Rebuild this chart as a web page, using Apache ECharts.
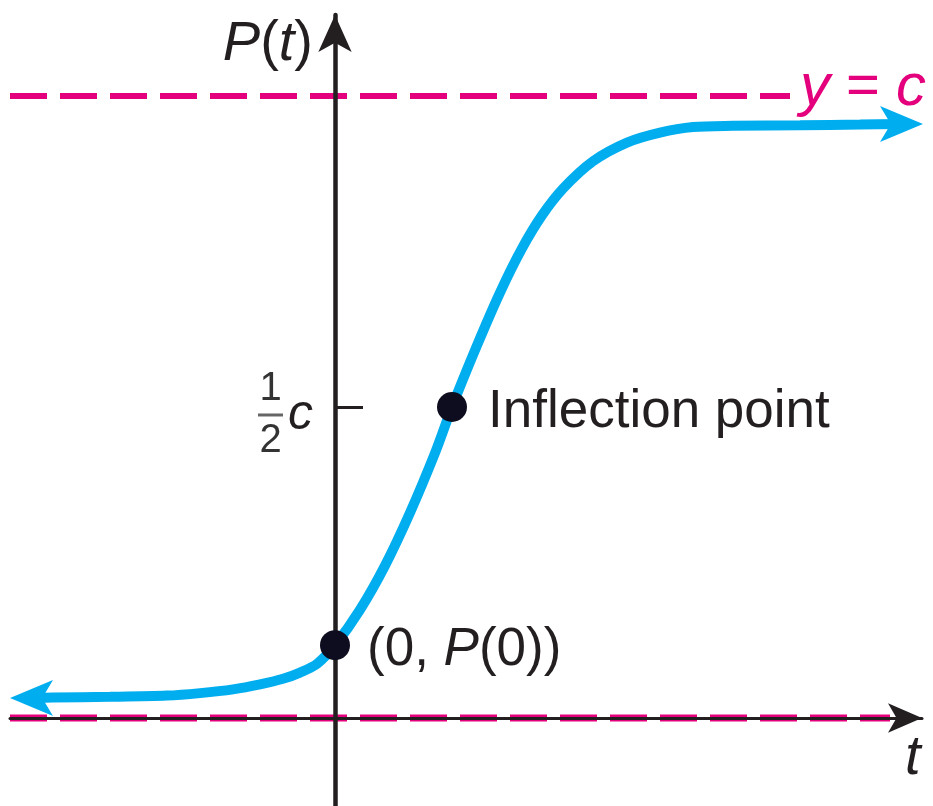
<!DOCTYPE html>
<html>
<head>
<meta charset="utf-8">
<script src="https://cdn.jsdelivr.net/npm/echarts@6/dist/echarts.min.js"></script>
<style>
  html, body { margin: 0; padding: 0; background: #fff; }
  #chart { width: 933px; height: 806px; }
</style>
</head>
<body>
<div id="chart"></div>
<script>
// logistic curve P(t) (c = 1)
const curveT = [-3.03, -2.82, -2.25, -1.68, -1.35, -1.02, -0.75, -0.52, -0.35, -0.18, 0, 0.25, 0.5, 0.75, 1.0, 1.17,
  1.42, 1.65, 1.87, 2.07, 2.28, 2.58, 2.92, 3.25, 3.58, 3.98, 4.65, 5.25, 5.67];
const curveP = [0.032, 0.033, 0.034, 0.036, 0.04, 0.046, 0.054, 0.063, 0.073, 0.087, 0.117, 0.174, 0.245, 0.33, 0.426, 0.5,
  0.599, 0.684, 0.755, 0.808, 0.851, 0.895, 0.925, 0.941, 0.95, 0.952, 0.953, 0.954, 0.955];

// marked points
const pointT = [0, 1.17];
const pointP = [0.117, 0.5];
const pointLabels = ['(0, {i|P}(0))', 'Inflection point'];

// asymptotes y = c and y = 0
const C = 1;
const topLineT = [-3.25, 4.55];
const bottomLineT = [-3.25, 5.55];

// y-axis tick (1/2 c)
const yTicks = [0.5];

const BLUE = '#00aeef';
const MAGENTA = '#e4007c';
const INK = '#231f20';
const SANS = "'Liberation Sans', Arial, sans-serif";

const chart = echarts.init(document.getElementById('chart'));

const curveData = curveT.map((t, i) => [t, curveP[i]]);
// arrow heads at both ends of the curve (symbol tip sits at its anchor)
const ends = [
  { value: curveData[0], symbolRotate: 90, symbolOffset: [-22, 0] },
  { value: curveData[curveData.length - 1], symbolRotate: -90, symbolOffset: [21, 0] }
];

const option = {
  animation: false,
  backgroundColor: '#fff',
  textStyle: { fontFamily: SANS },
  grid: { left: 10, right: 11, top: 15, bottom: 0, outerBoundsMode: 'none' },
  xAxis: {
    type: 'value',
    min: -3.25,
    max: 5.87,
    z: 5,
    name: '{i|t}',
    nameLocation: 'end',
    nameGap: -17,
    nameTextStyle: {
      align: 'left',
      verticalAlign: 'top',
      padding: [12, 0, 0, 0],
      rich: { i: { fontSize: 56, fontStyle: 'italic', color: INK, fontFamily: SANS } }
    },
    axisLine: {
      onZero: true,
      symbol: ['none', 'arrow'],
      symbolSize: [22, 34],
      symbolOffset: [0, 0],
      lineStyle: { color: INK, width: 3 }
    },
    axisTick: { show: false },
    axisLabel: { show: false },
    splitLine: { show: false }
  },
  yAxis: {
    type: 'value',
    min: -0.1415,
    max: 1.1302,
    z: 5,
    name: '{i|P}({i|t})',
    nameLocation: 'end',
    nameGap: -57,
    nameTextStyle: {
      align: 'right',
      verticalAlign: 'bottom',
      padding: [0, 22, 0, 0],
      fontSize: 56,
      color: INK,
      rich: { i: { fontSize: 56, fontStyle: 'italic', color: INK, fontFamily: SANS } }
    },
    axisLine: {
      onZero: true,
      symbol: ['none', 'arrow'],
      symbolSize: [25, 37],
      symbolOffset: [0, 0],
      lineStyle: { color: INK, width: 4.5 }
    },
    axisTick: {
      show: true,
      inside: true,
      length: 28,
      customValues: yTicks,
      lineStyle: { color: INK, width: 3 }
    },
    axisLabel: { show: false },
    splitLine: { show: false }
  },
  series: [
    {
      type: 'line',
      data: topLineT.map(t => [t, C]),
      symbol: 'none',
      lineStyle: { color: MAGENTA, width: 6, type: [37, 13] },
      endLabel: {
        show: true,
        formatter: '{i|y} = {i|c}',
        distance: 10,
        offset: [0, -8],
        color: MAGENTA,
        fontSize: 58,
        fontFamily: SANS,
        rich: { i: { fontSize: 60, fontStyle: 'italic', color: MAGENTA, fontFamily: SANS } }
      },
      z: 2
    },
    {
      type: 'line',
      data: bottomLineT.map(t => [t, 0]),
      symbol: 'none',
      lineStyle: { color: MAGENTA, width: 7, type: [37, 13] },
      z: 2
    },
    {
      type: 'line',
      data: curveData,
      smooth: 0.3,
      symbol: 'none',
      lineStyle: { color: BLUE, width: 10 },
      z: 3
    },
    {
      type: 'scatter',
      data: ends,
      symbol: 'arrow',
      symbolSize: [27, 43],
      itemStyle: { color: BLUE, opacity: 1 },
      z: 4
    },
    {
      // the "1/2 c" label beside the y-axis tick
      type: 'scatter',
      data: yTicks.map(v => [0, v]),
      symbolSize: 0,
      silent: true,
      itemStyle: { opacity: 1 },
      label: {
        show: true,
        position: 'left',
        distance: 22,
        offset: [0, 8],
        formatter: '{n|1}{s|}\n{b|}{c|c}\n{n|2}{s|}',
        rich: {
          n: { fontSize: 40, lineHeight: 42, width: 25, align: 'center', color: '#333', fontFamily: SANS },
          s: { width: 30 },
          b: { width: 25, height: 3, backgroundColor: '#666' },
          c: { fontSize: 50, fontStyle: 'italic', lineHeight: 10, padding: [0, 0, 0, 5], color: INK, fontFamily: SANS }
        }
      },
      z: 6
    },
    {
      type: 'scatter',
      data: pointT.map((t, i) => ({
        value: [t, pointP[i]],
        label: { formatter: pointLabels[i], distance: i === 0 ? 17 : 21 }
      })),
      symbolSize: 30,
      itemStyle: { color: '#0d0d1f', opacity: 1 },
      label: {
        show: true,
        position: 'right',
        offset: [0, 5],
        fontSize: 53,
        fontFamily: SANS,
        color: INK,
        rich: { i: { fontSize: 53, fontStyle: 'italic', fontFamily: SANS, color: INK } }
      },
      z: 10
    }
  ]
};

chart.setOption(option);
window.addEventListener('resize', () => chart.resize());
</script>
</body>
</html>
